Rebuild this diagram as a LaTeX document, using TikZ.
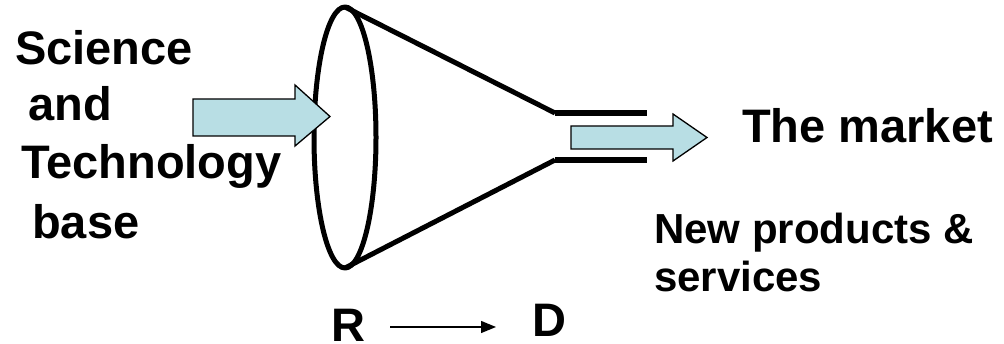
\documentclass[tikz,border=0pt]{standalone}
\usepackage{fontspec}
\setmainfont{Liberation Sans}
\usetikzlibrary{arrows.meta}
\definecolor{arrowfill}{RGB}{184,222,228}
\begin{document}
\begin{tikzpicture}[x=1pt,y=-1pt,
  bigtext/.style={anchor=base west,inner sep=0pt,font=\bfseries\fontsize{47}{56}\selectfont},
  midtext/.style={anchor=base west,inner sep=0pt,font=\bfseries\fontsize{42}{50}\selectfont},
  funnel/.style={line width=5pt,line join=round},
  tube/.style={line width=6pt},
  fatarrow/.style={draw=black,line width=1.3pt,fill=arrowfill,line join=miter},
  rdarrow/.style={line width=1.3pt,-{Triangle[length=15pt,width=12pt]}}]
\useasboundingbox (0,0) rectangle (1004,344);
% funnel
\coordinate (ftop) at (345,7);
\coordinate (fbot) at (345,268);
\coordinate (ntop) at (555,113);
\coordinate (nbot) at (555,160);
\coordinate (etop) at (647,113);
\coordinate (ebot) at (647,160);
\draw[funnel] (345,137.5) ellipse [x radius=31,y radius=130.5];
\draw[funnel] (ftop) -- (ntop);
\draw[funnel] (fbot) -- (nbot);
\draw[tube] (ntop) -- (etop);
\draw[tube] (nbot) -- (ebot);
% input arrow
\draw[fatarrow] (193,99) -- (295,99) -- (295,85) -- (330,116.5) -- (295,146) -- (295,136) -- (193,136) -- cycle;
% output arrow
\draw[fatarrow] (571,126) -- (673,126) -- (673,114) -- (707,137.5) -- (673,161) -- (673,149) -- (571,149) -- cycle;
% left text
\node[bigtext] (sci) at (15,65) {Science};
\node[bigtext] (and) at (28,121) {and};
\node[bigtext] (tech) at (21,179) {Technology};
\node[bigtext] (base) at (32,239) {base};
% right text
\node[bigtext] (market) at (742,143) {The market};
\node[midtext] (newp) at (654,244) {New products \&};
\node[midtext] (serv) at (654,292) {services};
% R -> D
\node[bigtext,text depth=0pt] (R) at (331,342) {R};
\node[bigtext,text depth=0pt] (D) at (532,337) {D};
\coordinate (rdstart) at (390,327);
\coordinate (rdend) at (496,327);
\draw[rdarrow] (rdstart) -- (rdend);
\end{tikzpicture}
\end{document}
